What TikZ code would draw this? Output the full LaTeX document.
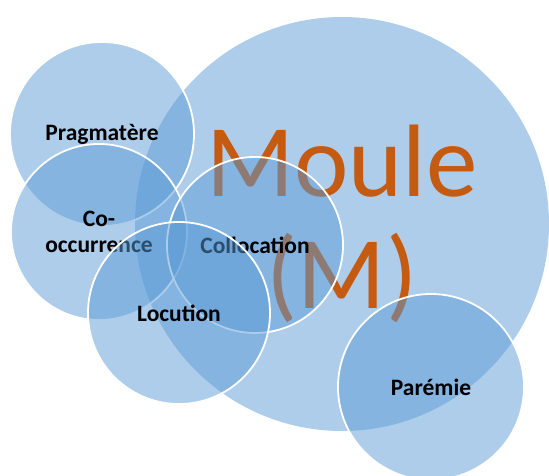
\documentclass[tikz,border=0pt]{standalone}
\usepackage{fontspec}
\setmainfont{Carlito}
\usepackage{xcolor}
\definecolor{vennblue}{RGB}{91,155,213}
\definecolor{mouleorange}{RGB}{197,90,17}

\begin{document}
\begin{tikzpicture}[x=1pt,y=-1pt]
\tikzset{bubble/.style={circle, fill=vennblue, fill opacity=0.5,
                        text opacity=1, draw=white, line width=1.8pt,
                        inner sep=0pt, align=center,
                        font=\fontsize{23.5}{26}\selectfont\bfseries}}
\useasboundingbox (0,0) rectangle (549,476);
\node[bubble, draw=none, minimum size=414pt, text=mouleorange,
      font=\fontsize{103}{112}\selectfont] (moule) at (342,224){Moule\\(M)};
\node[bubble, minimum size=184pt] (prag) at (102,134){Pragmatère};
\node[bubble, minimum size=176pt] (cooc) at (99,232){Co-\\occurrence};
\node[bubble, minimum size=176pt] (coll) at (255,245){Collocation};
\node[bubble, minimum size=182pt] (locu) at (179,313){Locution};
\node[bubble, minimum size=186pt] (pare) at (431,387){Parémie};
\end{tikzpicture}
\end{document}
